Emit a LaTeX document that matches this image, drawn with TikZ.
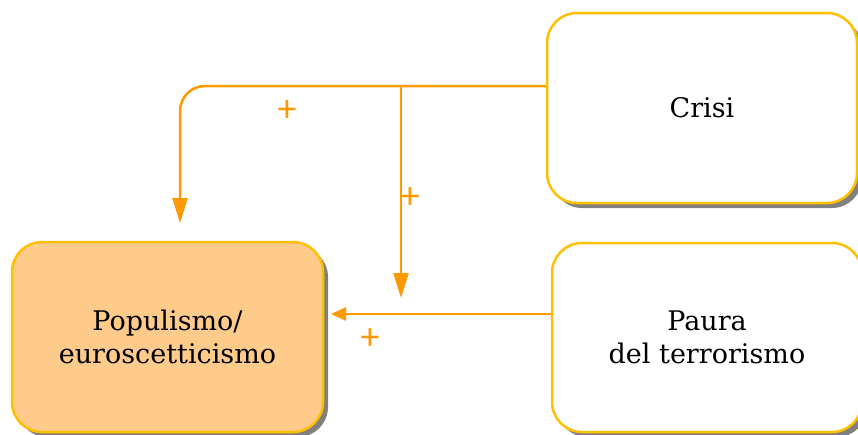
\documentclass[tikz,border=0pt]{standalone}
\usepackage{fontspec}
\setmainfont{DejaVu Serif}
\newfontfamily\plusfont{Carlito}
\usetikzlibrary{arrows.meta,calc,shadows}
\definecolor{boxline}{HTML}{FFC000}
\definecolor{conn}{HTML}{FF9900}
\definecolor{popfill}{HTML}{FECB8A}
\definecolor{shadowgrey}{HTML}{808080}
\begin{document}
\begin{tikzpicture}[x=1pt,y=-1pt,
  box/.style={draw=boxline, line width=2.5pt, rounded corners=30pt, fill=white,
    align=center, font=\fontsize{27}{33}\selectfont, inner sep=0pt,
    minimum width=310pt, minimum height=190pt,
    general shadow={shadow xshift=5pt, shadow yshift=-5pt, fill=shadowgrey}},
  conn/.style={draw=conn, line width=2.5pt},
  bigtip/.style={-{Triangle[length=25pt,width=15pt]}},
  smalltip/.style={-{Triangle[length=15pt,width=13pt]}},
  plus/.style={text=conn, font=\plusfont\fontsize{38}{38}\selectfont, inner sep=0pt}
]
\useasboundingbox (0,0) rectangle (858,434);
\fill[white] (0,0) rectangle (858,434);
\node[box] (crisi) at (702,108) {Crisi};
\node[box, minimum height=189pt] (paura) at (707,337.5) {Paura\\del terrorismo};
\node[box, fill=popfill, minimum width=311pt] (pop) at (167.5,337) {Populismo/\\euroscetticismo};
\coordinate (j) at (401,86);
\coordinate (t1) at (180,223);
\coordinate (t2) at (401,298);
\coordinate (t3) at (331,314);
\draw[conn, rounded corners=25pt, bigtip] (crisi.west |- j) -| (t1);
\draw[conn, bigtip] (j) -- (t2);
\draw[conn, smalltip] (paura.west |- t3) -- (t3);
\node[plus] (p1) at (287,111) {+};
\node[plus] (p2) at (410,198) {+};
\node[plus] (p3) at (370,339) {+};
\end{tikzpicture}
\end{document}
